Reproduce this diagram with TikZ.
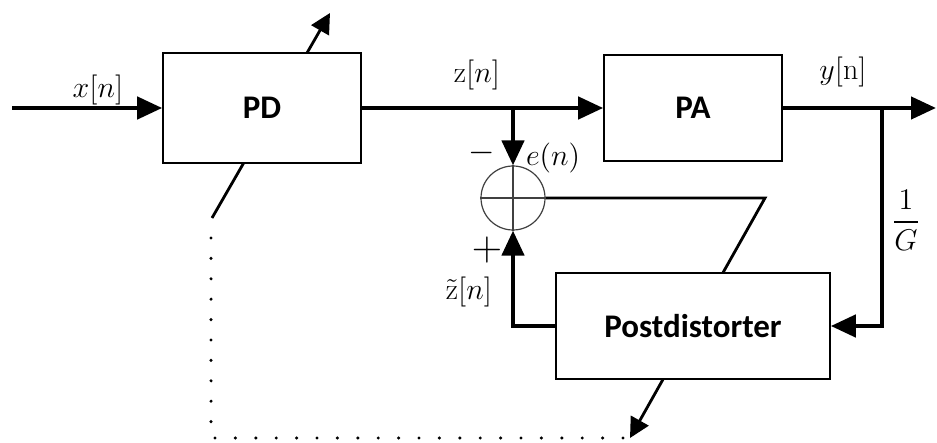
\RequirePackage{fix-cm}
\documentclass[tikz,border=0pt]{standalone}
\usepackage{fontspec}
\newfontfamily\blockfont{Carlito}
\usepackage{amsmath,amssymb}
\usetikzlibrary{arrows.meta,backgrounds}

\tikzset{
	block/.style={draw, line width=0.8pt, fill=white, inner sep=0pt,
		font=\blockfont\bfseries\fontsize{16.5}{18}\selectfont},
	sumnode/.style={draw=black!75, circle, line width=0.6pt, fill=white,
		minimum size=32pt, inner sep=0pt},
	sumcross/.style={draw=black!75, line width=0.6pt},
	sig/.style={line width=2.2pt, -{Triangle[length=12.5pt,width=11pt]}},
	adj/.style={line width=1.4pt, -{Triangle[length=10pt,width=10pt]}},
	dotline/.style={line width=1.7pt, line cap=round, dash pattern=on 0pt off 10.2pt},
	lbl/.style={inner sep=0pt, font=\fontsize{15}{17}\selectfont},
	signlbl/.style={inner sep=0pt}
}

\begin{document}
\begin{tikzpicture}[x=0.5pt, y=-0.5pt]
	
	\useasboundingbox (0,0) rectangle (937,443);
	
	% ------------------------------------------------------------
	% Positionen
	% ------------------------------------------------------------
	
	\def\ysig{108}
	\def\xsplit{513}
	\def\xfeed{882}
	
	\coordinate (in)       at (12,\ysig);
	\coordinate (out)      at (936,\ysig);
	\coordinate (zsplit)   at (\xsplit,\ysig);
	\coordinate (ysplit)   at (\xfeed,\ysig);
	\coordinate (pdtail)   at (212,218);
	\coordinate (pdtip)    at (330,13);
	\coordinate (ecorner)  at (765,198);
	\coordinate (posttip)  at (630,438);
	\coordinate (dotstart) at (211,238);
	
	% ------------------------------------------------------------
	% Blocks
	% ------------------------------------------------------------
	
	\node[block, minimum width=99pt, minimum height=55pt] (pd) at (262,\ysig) {PD};
	\node[block, minimum width=89pt, minimum height=53pt] (pa) at (693,\ysig) {PA};
	\node[block, minimum width=137pt, minimum height=53pt] (post) at (693,326) {Postdistorter};
	
	\node[sumnode] (sum) at (\xsplit,198) {};
	\draw[sumcross] (sum.north) -- (sum.south) (sum.west) -- (sum.east);
	
	% ------------------------------------------------------------
	% Signal path
	% ------------------------------------------------------------
	
	\draw[sig] (in) -- (pd.west);
	\draw[sig] (pd.east) -- (pa.west);
	\draw[sig] (zsplit) -- (sum.north);
	\draw[sig] (pa.east) -- (out);
	\draw[sig] (ysplit) |- (post.east);
	\draw[sig] (post.west) -| (sum.south);
	
	% ------------------------------------------------------------
	% Adaption (behind the blocks)
	% ------------------------------------------------------------
	
	\begin{scope}[on background layer]
		\draw[adj] (pdtail) -- (pdtip);
		\draw[adj] (sum.east) -- (ecorner) -- (posttip);
	\end{scope}
	
	\draw[dotline] (dotstart) |- (posttip);
	
	% ------------------------------------------------------------
	% Labels
	% ------------------------------------------------------------
	
	\node[lbl] (xlbl)  at (98,90)   {$x[n]$};
	\node[lbl] (zlbl)  at (477,75)  {$\mathrm{z}[n]$};
	\node[lbl] (ylbl)  at (843,72)  {$y[\mathrm{n}]$};
	\node[lbl] (elbl)  at (553,158) {$e(n)$};
	\node[lbl] (glbl)  at (906,220) {$\dfrac{1}{G}$};
	\node[lbl] (ztlbl) at (469,292) {$\tilde{\mathrm{z}}[n]$};
	
	\node[signlbl, font=\fontsize{17}{17}\selectfont] (minus) at (482,153) {$-$};
	\node[signlbl, font=\fontsize{21}{21}\selectfont] (plus)  at (487,250) {$+$};
	
\end{tikzpicture}
\end{document}
